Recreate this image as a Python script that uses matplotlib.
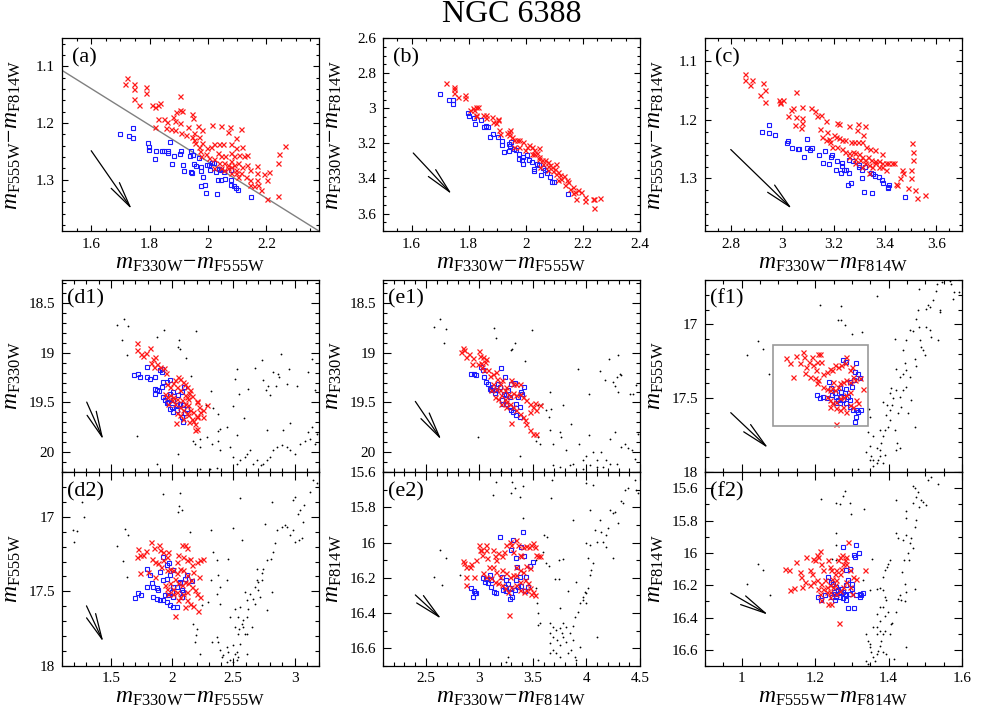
import numpy as np
import matplotlib
matplotlib.use('Agg')
import matplotlib.pyplot as plt
from matplotlib.ticker import MultipleLocator, FuncFormatter
from matplotlib.patches import Rectangle

plt.rcParams['font.family'] = 'Liberation Serif'
plt.rcParams['mathtext.fontset'] = 'custom'
plt.rcParams['mathtext.rm'] = 'Liberation Serif'
plt.rcParams['mathtext.it'] = 'Liberation Serif:italic'

# ── data: panel (a)  x = F330W-F555W, y = F555W-F814W ───────────────────────
a_red = [(1.721, 1.121), (1.717, 1.131), (1.745, 1.131), (1.745, 1.140), (1.745, 1.157), (1.762, 1.168),
         (1.786, 1.137), (1.787, 1.147), (1.807, 1.168), (1.819, 1.171), (1.828, 1.169), (1.837, 1.165),
         (1.820, 1.207), (1.828, 1.193), (1.850, 1.193), (1.858, 1.199), (1.857, 1.208), (1.873, 1.211),
         (1.880, 1.189), (1.888, 1.197), (1.891, 1.181), (1.904, 1.177), (1.911, 1.178), (1.904, 1.153),
         (1.887, 1.212), (1.907, 1.217), (1.930, 1.207), (1.904, 1.200), (1.946, 1.184), (1.947, 1.191),
         (1.964, 1.205), (1.981, 1.212), (2.012, 1.204), (2.044, 1.205), (2.076, 1.207), (2.112, 1.210),
         (2.068, 1.216), (2.095, 1.226), (1.944, 1.224), (1.953, 1.230), (1.970, 1.224), (1.955, 1.236),
         (1.968, 1.242), (1.973, 1.250), (1.981, 1.236), (1.998, 1.245), (2.010, 1.243), (2.021, 1.237),
         (2.038, 1.237), (2.050, 1.237), (2.078, 1.237), (2.095, 1.245), (2.118, 1.242), (2.033, 1.253),
         (2.044, 1.259), (2.058, 1.258), (2.078, 1.253), (2.090, 1.259), (2.107, 1.256), (2.124, 1.258),
         (2.135, 1.256), (1.976, 1.259), (1.993, 1.255), (2.004, 1.262), (2.021, 1.264), (2.038, 1.271),
         (2.055, 1.271), (2.067, 1.274), (2.080, 1.268), (2.090, 1.274), (2.103, 1.271), (2.118, 1.277),
         (2.135, 1.274), (2.144, 1.283), (2.167, 1.276), (2.021, 1.280), (2.044, 1.280), (2.055, 1.283),
         (2.078, 1.277), (2.095, 1.283), (2.112, 1.289), (2.129, 1.295), (2.144, 1.301), (2.167, 1.289),
         (2.169, 1.301), (2.192, 1.290), (2.209, 1.287), (2.203, 1.301), (2.172, 1.309), (2.181, 1.318),
         (2.158, 1.312), (2.144, 1.309), (2.203, 1.335), (2.238, 1.329), (2.238, 1.270), (2.243, 1.255),
         (2.263, 1.240), (2.095, 1.289), (2.078, 1.289), (2.067, 1.280), (2.101, 1.295), (1.924, 1.221),
         (1.951, 1.218)]
a_blue = [(1.699, 1.219), (1.731, 1.223), (1.742, 1.208), (1.742, 1.226), (1.793, 1.236), (1.797, 1.242),
          (1.799, 1.248), (1.822, 1.249), (1.820, 1.264), (1.841, 1.249), (1.850, 1.249), (1.862, 1.250),
          (1.862, 1.253), (1.871, 1.233), (1.882, 1.259), (1.876, 1.273), (1.913, 1.275), (1.917, 1.285),
          (1.907, 1.250), (1.905, 1.255), (1.942, 1.250), (1.947, 1.256), (1.938, 1.259), (1.942, 1.286),
          (1.945, 1.289), (1.953, 1.273), (1.960, 1.276), (1.970, 1.262), (1.976, 1.285), (1.984, 1.296),
          (1.976, 1.312), (1.989, 1.309), (1.994, 1.323), (2.029, 1.326), (2.004, 1.274), (2.012, 1.271),
          (2.021, 1.270), (2.027, 1.286), (2.008, 1.283), (2.038, 1.282), (2.044, 1.283), (2.035, 1.301),
          (2.046, 1.301), (2.058, 1.299), (2.078, 1.301), (2.080, 1.309), (2.090, 1.312), (2.095, 1.314),
          (2.101, 1.318), (2.053, 1.286), (2.078, 1.283), (2.147, 1.331), (1.976, 1.277), (1.998, 1.275)]
a_line_x = [1.50, 2.38]
a_line_y = [1.107, 1.391]

# ── panel (b)  x = F330W-F555W, y = F330W-F814W ─────────────────────────────
b_red = [(1.720, 2.857), (1.747, 2.880), (1.747, 2.889), (1.747, 2.914), (1.763, 2.936), (1.786, 2.927),
         (1.787, 2.942), (1.806, 3.007), (1.816, 2.997), (1.820, 3.008), (1.827, 2.990), (1.834, 2.993),
         (1.825, 3.037), (1.827, 3.046), (1.850, 3.037), (1.859, 3.041), (1.859, 3.054), (1.880, 3.050),
         (1.884, 3.079), (1.896, 3.084), (1.903, 3.060), (1.904, 3.065), (1.907, 3.122), (1.911, 3.145),
         (1.936, 3.141), (1.942, 3.135), (1.945, 3.126), (1.942, 3.154), (1.951, 3.164), (1.959, 3.183),
         (1.968, 3.179), (1.978, 3.183), (1.990, 3.192), (2.005, 3.221), (2.013, 3.211), (2.022, 3.221),
         (2.028, 3.240), (2.039, 3.255), (2.045, 3.225), (2.028, 3.259), (2.048, 3.278), (2.056, 3.293),
         (2.068, 3.293), (2.079, 3.306), (2.085, 3.325), (2.091, 3.335), (2.102, 3.344), (2.114, 3.363),
         (2.105, 3.372), (2.120, 3.382), (2.134, 3.388), (2.143, 3.410), (2.148, 3.420), (2.165, 3.448),
         (2.171, 3.477), (2.183, 3.467), (2.194, 3.477), (2.206, 3.505), (2.206, 3.528), (2.234, 3.515),
         (2.238, 3.566), (2.261, 3.511), (2.240, 3.520), (2.177, 3.520), (2.105, 3.316), (2.045, 3.287),
         (2.077, 3.331), (2.097, 3.357), (2.125, 3.401), (2.154, 3.458), (1.959, 3.221), (1.999, 3.240),
         (1.978, 3.221), (2.022, 3.259), (2.062, 3.316), (2.079, 3.354), (2.051, 3.335), (2.114, 3.410),
         (2.137, 3.439), (2.165, 3.482)]
b_blue = [(1.699, 2.921), (1.732, 2.955), (1.745, 2.952), (1.745, 2.974), (1.798, 3.027), (1.801, 3.046),
          (1.818, 3.054), (1.821, 3.088), (1.844, 3.069), (1.852, 3.107), (1.862, 3.103), (1.867, 3.107),
          (1.875, 3.164), (1.884, 3.145), (1.904, 3.164), (1.918, 3.189), (1.918, 3.208), (1.940, 3.202),
          (1.944, 3.215), (1.959, 3.230), (1.942, 3.244), (1.965, 3.236), (1.976, 3.263), (1.978, 3.287),
          (1.990, 3.278), (1.992, 3.319), (1.988, 3.297), (2.013, 3.293), (2.022, 3.306), (2.028, 3.344),
          (2.028, 3.357), (2.045, 3.325), (2.054, 3.382), (2.062, 3.338), (2.074, 3.369), (2.085, 3.391),
          (2.091, 3.420), (2.100, 3.420), (2.148, 3.490), (1.925, 3.249), (2.005, 3.268), (2.039, 3.316),
          (2.068, 3.354), (1.948, 3.192)]

# ── panel (c)  x = F330W-F814W, y = F555W-F814W ─────────────────────────────
c_red = [(2.857, 1.121), (2.854, 1.132), (2.881, 1.132), (2.873, 1.141), (2.925, 1.137), (2.935, 1.148),
         (2.932, 1.169), (2.912, 1.158), (2.988, 1.166), (2.993, 1.169), (3.002, 1.166), (2.993, 1.171),
         (3.021, 1.194), (3.034, 1.183), (3.044, 1.179), (3.053, 1.195), (3.053, 1.152), (3.049, 1.209),
         (3.079, 1.178), (3.079, 1.196), (3.079, 1.206), (3.073, 1.214), (3.111, 1.179), (3.128, 1.185),
         (3.137, 1.194), (3.150, 1.192), (3.169, 1.202), (3.146, 1.215), (3.175, 1.220), (3.214, 1.205),
         (3.221, 1.207), (3.259, 1.211), (3.295, 1.207), (3.321, 1.211), (3.291, 1.218), (3.314, 1.226),
         (3.156, 1.229), (3.169, 1.235), (3.182, 1.232), (3.188, 1.237), (3.201, 1.226), (3.208, 1.229),
         (3.221, 1.230), (3.233, 1.235), (3.246, 1.235), (3.266, 1.237), (3.278, 1.237), (3.295, 1.237),
         (3.311, 1.237), (3.326, 1.246), (3.343, 1.249), (3.362, 1.252), (3.388, 1.258), (3.195, 1.246),
         (3.215, 1.246), (3.233, 1.249), (3.246, 1.254), (3.259, 1.256), (3.274, 1.254), (3.285, 1.257),
         (3.298, 1.258), (3.311, 1.263), (3.323, 1.268), (3.334, 1.263), (3.346, 1.269), (3.362, 1.271),
         (3.375, 1.270), (3.388, 1.274), (3.403, 1.274), (3.413, 1.273), (3.426, 1.274), (3.437, 1.274),
         (3.285, 1.266), (3.304, 1.269), (3.323, 1.274), (3.336, 1.277), (3.349, 1.280), (3.362, 1.274),
         (3.375, 1.280), (3.388, 1.281), (3.403, 1.285), (3.465, 1.286), (3.471, 1.291), (3.458, 1.300),
         (3.446, 1.311), (3.442, 1.310), (3.491, 1.317), (3.501, 1.286), (3.507, 1.240), (3.510, 1.254),
         (3.510, 1.269), (3.516, 1.320), (3.523, 1.334), (3.557, 1.328), (3.501, 1.300), (3.336, 1.291),
         (3.311, 1.280), (3.285, 1.274), (3.259, 1.263)]
c_blue = [(2.920, 1.220), (2.948, 1.208), (2.950, 1.223), (2.971, 1.225), (3.019, 1.240), (3.021, 1.236),
          (3.040, 1.248), (3.060, 1.249), (3.064, 1.250), (3.085, 1.264), (3.098, 1.232), (3.098, 1.248),
          (3.109, 1.252), (3.118, 1.248), (3.143, 1.260), (3.159, 1.273), (3.166, 1.253), (3.184, 1.275),
          (3.193, 1.260), (3.192, 1.263), (3.208, 1.285), (3.214, 1.271), (3.231, 1.273), (3.233, 1.279),
          (3.229, 1.290), (3.240, 1.286), (3.249, 1.285), (3.257, 1.311), (3.266, 1.307), (3.275, 1.270),
          (3.259, 1.269), (3.298, 1.277), (3.298, 1.281), (3.311, 1.285), (3.317, 1.323), (3.311, 1.300),
          (3.323, 1.280), (3.346, 1.291), (3.352, 1.292), (3.362, 1.295), (3.375, 1.298), (3.388, 1.302),
          (3.394, 1.308), (3.411, 1.314), (3.413, 1.317), (3.417, 1.311), (3.478, 1.331), (3.349, 1.325),
          (3.259, 1.290)]

# ── panel (d1)  x = F330W-F555W, y = F330W ─────────────────────────────────
d1_black = [(1.547, 18.725), (1.609, 18.665), (1.637, 18.732), (1.590, 18.869), (1.628, 19.020), (1.873, 18.842),
            (1.936, 18.768), (2.059, 18.869), (2.051, 18.943), (2.064, 18.966), (2.113, 19.054), (2.195, 18.785),
            (2.154, 19.238), (2.315, 19.386), (2.337, 19.554), (2.277, 19.530), (2.377, 19.614), (2.391, 19.772),
            (2.375, 19.789), (2.500, 19.537), (2.514, 19.262), (2.533, 19.161), (2.549, 19.413), (2.590, 19.654),
            (2.620, 19.362), (2.674, 19.154), (2.731, 19.077), (2.740, 19.279), (2.767, 19.373), (2.786, 19.339),
            (2.800, 19.430), (2.827, 19.195), (2.868, 19.211), (2.876, 19.248), (2.849, 19.339), (2.890, 19.017),
            (2.936, 19.312), (2.958, 19.161), (2.963, 19.708), (3.017, 19.339), (3.113, 19.195), (3.146, 19.067),
            (3.167, 19.379), (1.710, 19.839), (2.048, 20.017), (1.873, 20.118), (2.173, 19.883), (2.187, 19.916),
            (2.228, 19.866), (2.282, 19.849), (2.323, 19.916), (2.377, 19.883), (2.391, 19.983), (2.446, 19.748),
            (2.473, 19.950), (2.500, 20.050), (2.533, 20.118), (2.554, 20.084), (2.595, 20.050), (2.609, 20.017),
            (2.636, 19.983), (2.663, 20.118), (2.691, 20.084), (2.723, 20.134), (2.745, 20.118), (2.772, 20.084),
            (2.800, 20.050), (2.827, 19.983), (2.854, 19.950), (2.895, 19.933), (2.936, 19.950), (2.963, 19.983),
            (3.004, 20.017), (3.045, 19.916), (3.086, 19.883), (3.126, 19.866), (3.167, 19.916), (3.181, 19.815),
            (3.140, 19.748), (3.113, 19.799), (2.772, 19.782), (2.909, 19.782), (2.527, 19.832), (2.228, 20.168),
            (2.309, 20.168), (2.364, 20.158), (2.228, 19.950)]
d1_red = [(1.710, 18.899), (1.716, 18.976), (1.743, 19.017), (1.765, 19.037), (1.786, 19.003), (1.819, 18.950),
          (1.841, 19.060), (1.860, 19.044), (1.879, 19.111), (1.901, 19.144), (1.936, 19.151), (1.950, 19.205),
          (1.824, 19.104), (1.852, 19.144), (1.955, 19.312), (1.982, 19.346), (2.004, 19.305), (2.023, 19.279),
          (2.051, 19.245), (2.064, 19.265), (2.086, 19.295), (2.105, 19.312), (2.119, 19.346), (2.140, 19.406),
          (2.146, 19.379), (2.037, 19.346), (2.064, 19.379), (2.119, 19.446), (2.160, 19.440), (2.200, 19.487),
          (2.206, 19.497), (2.222, 19.547), (2.249, 19.581), (2.282, 19.530), (2.255, 19.648), (2.105, 19.513),
          (2.132, 19.530), (2.146, 19.581), (2.173, 19.597), (2.200, 19.634), (2.132, 19.631), (2.160, 19.664),
          (2.187, 19.715), (2.187, 19.782), (2.200, 19.765), (2.032, 19.708), (2.010, 19.446), (1.982, 19.430),
          (1.955, 19.446), (1.942, 19.413), (2.023, 19.513), (2.064, 19.547), (2.091, 19.581), (2.119, 19.607),
          (2.064, 19.631), (2.037, 19.607), (2.086, 19.664), (2.140, 19.698), (2.173, 19.688), (2.200, 19.648),
          (2.228, 19.597), (1.969, 19.513), (1.996, 19.480), (2.037, 19.463), (2.078, 19.480), (2.105, 19.430),
          (2.127, 19.463)]
d1_blue = [(1.688, 19.222), (1.724, 19.211), (1.737, 19.245), (1.792, 19.144), (1.797, 19.245), (1.819, 19.262),
           (1.860, 19.245), (1.860, 19.362), (1.873, 19.379), (1.895, 19.386), (1.914, 19.346), (1.928, 19.295),
           (1.914, 19.161), (1.901, 19.178), (1.920, 19.195), (1.860, 19.413), (1.928, 19.446), (1.942, 19.480),
           (1.955, 19.507), (1.969, 19.497), (1.982, 19.413), (2.010, 19.396), (2.078, 19.396), (2.097, 19.346),
           (2.037, 19.530), (2.064, 19.513), (2.086, 19.530), (2.119, 19.564), (2.105, 19.607), (1.982, 19.564),
           (2.010, 19.597), (2.037, 19.581), (2.078, 19.648), (2.091, 19.698), (2.010, 19.480), (1.996, 19.547),
           (2.051, 19.430), (1.955, 19.295), (1.982, 19.279)]

# ── panel (d2)  x = F330W-F555W, y = F555W ─────────────────────────────────
d2_black = [(1.928, 16.850), (2.064, 16.843), (2.053, 16.926), (2.078, 16.955), (2.051, 16.966), (1.187, 17.089),
            (1.225, 17.094), (1.198, 17.168), (1.263, 16.899), (1.280, 17.004), (1.547, 17.197), (1.615, 17.083),
            (1.642, 17.123), (1.596, 17.298), (1.628, 17.403), (2.146, 17.101), (2.315, 17.089), (2.500, 17.074),
            (2.554, 16.872), (2.568, 17.157), (2.459, 17.286), (2.337, 17.235), (2.364, 17.291), (2.377, 17.391),
            (2.315, 17.425), (2.446, 17.421), (2.391, 17.470), (2.364, 17.515), (2.391, 17.582), (2.241, 17.588),
            (2.296, 17.570), (2.173, 17.716), (2.200, 17.749), (2.195, 17.794), (2.187, 17.839), (2.228, 17.917),
            (2.323, 17.839), (2.364, 17.805), (2.377, 17.839), (2.391, 17.895), (2.405, 17.940), (2.418, 17.928),
            (2.446, 17.872), (2.459, 17.906), (2.500, 17.861), (2.514, 17.917), (2.527, 17.906), (2.541, 17.940),
            (2.554, 17.850), (2.609, 17.917), (2.500, 17.973), (2.473, 17.962), (2.446, 17.973), (2.527, 17.962),
            (2.609, 17.671), (2.623, 17.615), (2.582, 17.738), (2.595, 17.783), (2.582, 17.693), (2.541, 17.671),
            (2.549, 17.749), (2.568, 17.716), (2.609, 17.559), (2.636, 17.515), (2.663, 17.548), (2.677, 17.470),
            (2.691, 17.425), (2.704, 17.492), (2.731, 17.380), (2.745, 17.347), (2.772, 17.291), (2.805, 17.280),
            (2.827, 17.235), (2.840, 17.179), (2.854, 17.089), (2.895, 17.067), (2.922, 17.056), (2.941, 17.067),
            (2.963, 17.123), (2.990, 17.089), (3.004, 17.168), (3.036, 17.157), (3.058, 17.145), (3.031, 16.978),
            (3.045, 16.955), (3.072, 17.034), (3.077, 16.922), (3.126, 16.832), (3.154, 16.754), (3.181, 16.776),
            (2.990, 16.888), (3.004, 16.866), (2.813, 16.899), (2.759, 17.045), (2.691, 17.347), (2.731, 17.425),
            (2.677, 17.582), (2.718, 17.537), (2.772, 17.626), (2.813, 17.503), (2.704, 17.436), (2.595, 17.503),
            (2.514, 17.615), (2.554, 17.604), (2.473, 17.671), (2.514, 17.738), (2.541, 17.783), (2.609, 17.783),
            (2.650, 17.738)]
d2_red = [(1.724, 17.219), (1.737, 17.259), (1.710, 17.268), (1.765, 17.257), (1.784, 17.228), (1.824, 17.168),
          (1.852, 17.206), (1.895, 17.190), (1.901, 17.224), (1.928, 17.235), (1.955, 17.268), (1.969, 17.235),
          (1.833, 17.286), (1.860, 17.302), (1.887, 17.313), (1.909, 17.336), (1.928, 17.291), (1.805, 17.369),
          (1.860, 17.403), (1.737, 17.380), (1.955, 17.358), (1.982, 17.347), (2.010, 17.358), (2.037, 17.302),
          (2.051, 17.257), (2.078, 17.190), (2.105, 17.186), (2.119, 17.212), (2.086, 17.268), (2.119, 17.291),
          (2.146, 17.280), (2.160, 17.324), (2.173, 17.369), (2.119, 17.391), (2.091, 17.358), (2.037, 17.380),
          (2.064, 17.347), (2.023, 17.414), (2.051, 17.447), (2.078, 17.459), (2.105, 17.436), (2.132, 17.447),
          (2.160, 17.470), (2.187, 17.492), (2.200, 17.515), (2.228, 17.537), (2.119, 17.559), (2.146, 17.582),
          (2.173, 17.600), (2.214, 17.633), (2.010, 17.481), (2.037, 17.503), (1.982, 17.447), (1.955, 17.481),
          (1.942, 17.459), (2.064, 17.537), (2.105, 17.604), (2.023, 17.667), (2.228, 17.291), (2.255, 17.286),
          (2.200, 17.302), (2.222, 17.403), (2.151, 17.425), (2.119, 17.503), (2.086, 17.515), (2.051, 17.559),
          (2.010, 17.515), (1.969, 17.515)]
d2_blue = [(1.697, 17.544), (1.724, 17.508), (1.743, 17.526), (1.792, 17.347), (1.819, 17.387), (1.833, 17.443),
           (1.846, 17.470), (1.873, 17.474), (1.887, 17.492), (1.792, 17.470), (1.846, 17.537), (1.873, 17.548),
           (1.901, 17.559), (1.928, 17.559), (1.955, 17.570), (1.982, 17.593), (2.010, 17.604), (2.037, 17.604),
           (1.942, 17.526), (1.969, 17.526), (1.996, 17.503), (2.010, 17.470), (2.037, 17.470), (2.064, 17.447),
           (2.078, 17.492), (2.091, 17.503), (2.105, 17.414), (2.119, 17.391), (1.982, 17.391), (2.010, 17.358),
           (1.928, 17.268), (1.955, 17.324), (1.901, 17.369), (1.955, 17.414), (1.928, 17.425), (1.977, 17.313),
           (2.064, 17.436), (2.160, 17.432), (2.078, 17.537), (2.010, 17.537)]

# ── panel (e1)  x = F330W-F814W, y = F330W ─────────────────────────────────
e1_black = [(2.573, 18.742), (2.636, 18.658), (2.692, 18.758), (2.670, 18.903), (3.134, 18.752), (3.153, 18.849),
            (3.330, 18.903), (3.309, 18.960), (3.299, 18.977), (3.424, 19.087), (3.492, 18.768), (2.988, 19.849),
            (3.206, 20.185), (3.377, 20.034), (3.548, 19.530), (3.589, 19.520), (3.626, 19.581), (3.658, 19.396),
            (3.673, 19.564), (3.651, 19.648), (3.658, 19.782), (3.689, 19.916), (3.548, 19.849), (3.564, 19.916),
            (3.533, 19.893), (3.751, 19.799), (3.760, 19.849), (3.782, 19.530), (3.813, 19.983), (3.860, 19.715),
            (3.876, 20.118), (3.922, 19.161), (3.932, 19.916), (3.969, 20.084), (4.000, 20.034), (4.022, 19.413),
            (4.025, 19.832), (4.063, 19.999), (4.094, 20.151), (4.125, 19.188), (4.140, 19.999), (4.172, 19.272),
            (4.187, 20.084), (4.206, 19.060), (4.218, 19.866), (4.249, 19.295), (4.265, 19.339), (4.281, 19.245),
            (4.290, 19.396), (4.296, 19.020), (4.312, 19.211), (4.327, 19.228), (4.262, 19.799), (4.327, 19.950),
            (4.358, 19.916), (4.390, 19.956), (4.405, 19.413), (4.436, 19.413), (4.467, 19.329), (4.483, 19.815),
            (4.421, 19.983), (4.452, 20.067), (4.281, 20.118), (4.218, 20.118), (3.689, 20.134), (3.751, 20.151),
            (3.845, 20.134), (3.969, 20.168), (4.094, 20.084), (4.156, 20.151), (4.031, 20.134), (3.377, 20.185)]
e1_red = [(2.848, 18.953), (2.857, 18.976), (2.832, 18.993), (2.879, 19.044), (2.904, 19.010), (2.941, 19.054),
          (2.935, 19.111), (2.997, 18.983), (3.003, 19.037), (3.035, 19.044), (3.059, 19.060), (3.056, 19.094),
          (3.013, 19.104), (2.988, 19.111), (3.028, 19.144), (3.041, 19.178), (3.081, 19.178), (3.097, 19.238),
          (3.128, 19.211), (3.153, 19.195), (3.165, 19.262), (3.190, 19.312), (3.215, 19.279), (3.246, 19.346),
          (3.299, 19.279), (3.315, 19.312), (3.346, 19.312), (3.377, 19.312), (3.237, 19.379), (3.268, 19.413),
          (3.290, 19.440), (3.315, 19.406), (3.346, 19.430), (3.377, 19.413), (3.408, 19.446), (3.440, 19.480),
          (3.471, 19.513), (3.502, 19.547), (3.533, 19.581), (3.564, 19.530), (3.517, 19.507), (3.471, 19.597),
          (3.128, 19.312), (3.159, 19.362), (3.190, 19.379), (3.206, 19.430), (3.237, 19.463), (3.253, 19.497),
          (3.284, 19.513), (3.315, 19.547), (3.346, 19.581), (3.377, 19.614), (3.408, 19.648), (3.424, 19.681),
          (3.440, 19.715), (3.471, 19.782), (3.502, 19.822), (3.533, 19.815), (3.293, 19.708), (3.112, 19.379),
          (3.144, 19.446), (3.175, 19.463), (3.206, 19.513), (3.253, 19.547)]
e1_blue = [(2.926, 19.211), (2.947, 19.218), (2.972, 19.228), (3.019, 19.144), (3.035, 19.171), (3.041, 19.245),
           (3.066, 19.295), (3.081, 19.312), (3.097, 19.362), (3.112, 19.373), (3.128, 19.346), (3.144, 19.406),
           (3.159, 19.379), (3.206, 19.151), (3.237, 19.245), (3.190, 19.346), (3.228, 19.413), (3.253, 19.430),
           (3.215, 19.480), (3.221, 19.513), (3.253, 19.513), (3.284, 19.547), (3.299, 19.581), (3.315, 19.597),
           (3.346, 19.631), (3.377, 19.648), (3.299, 19.312), (3.330, 19.305), (3.393, 19.396), (3.402, 19.413),
           (3.415, 19.346), (3.362, 19.446), (3.346, 19.513), (3.377, 19.547), (3.284, 19.446), (3.268, 19.379),
           (3.175, 19.312)]

# ── panel (e2)  x = F330W-F814W, y = F814W ─────────────────────────────────
e2_black = [(3.153, 15.654), (3.309, 15.654), (3.330, 15.692), (3.408, 15.682), (3.128, 15.729), (3.293, 15.720),
            (3.377, 15.739), (3.667, 15.745), (3.679, 15.644), (3.408, 15.862), (3.268, 16.651), (3.253, 16.675),
            (3.548, 16.666), (2.636, 16.042), (2.686, 16.085), (2.573, 16.193), (2.655, 16.240), (2.816, 16.184),
            (3.601, 15.957), (3.633, 15.970), (3.595, 16.051), (3.527, 16.098), (3.626, 16.114), (3.651, 16.132),
            (3.704, 16.208), (3.745, 16.208), (3.739, 16.098), (3.782, 16.095), (3.533, 16.259), (3.539, 16.344),
            (3.548, 16.401), (3.564, 16.458), (3.548, 16.467), (3.658, 16.458), (3.689, 16.477), (3.720, 16.496),
            (3.751, 16.486), (3.782, 16.458), (3.813, 16.477), (3.658, 16.515), (3.689, 16.534), (3.726, 16.553),
            (3.751, 16.581), (3.782, 16.534), (3.813, 16.562), (3.844, 16.515), (3.876, 16.553), (3.829, 16.628),
            (3.860, 16.609), (3.891, 16.647), (3.907, 16.666), (3.938, 16.590), (3.658, 16.571), (3.689, 16.609),
            (3.720, 16.628), (3.751, 16.647), (3.658, 16.628), (3.876, 16.473), (3.891, 16.420), (3.922, 16.392),
            (3.938, 16.344), (3.969, 16.307), (4.000, 16.288), (3.985, 16.278), (4.010, 16.259), (4.031, 16.184),
            (4.047, 16.155), (4.063, 16.117), (4.016, 16.089), (4.000, 16.004), (4.031, 16.013), (4.078, 15.928),
            (4.094, 15.994), (4.125, 15.871), (4.140, 15.938), (4.156, 15.994), (4.178, 15.957), (4.187, 16.023),
            (4.203, 15.919), (4.218, 15.815), (4.249, 15.834), (4.265, 15.824), (4.290, 15.890), (4.249, 16.089),
            (4.327, 15.767), (4.343, 15.777), (4.358, 15.701), (4.390, 15.692), (4.452, 15.644), (4.467, 15.701),
            (4.483, 15.720), (4.031, 15.815), (4.063, 15.673), (4.000, 15.663), (3.876, 15.871), (4.094, 16.534),
            (3.751, 16.373), (3.829, 16.274), (3.907, 16.221), (3.969, 16.325), (4.000, 16.341), (3.767, 16.515)]
e2_red = [(2.848, 16.104), (2.854, 16.117), (2.879, 16.140), (2.879, 16.193), (2.879, 16.240), (2.910, 16.136),
          (2.926, 16.121), (2.950, 16.193), (2.997, 16.013), (3.003, 16.042), (3.019, 16.045), (3.028, 16.070),
          (3.059, 16.013), (3.066, 16.045), (3.075, 16.089), (3.091, 16.136), (3.128, 16.045), (3.144, 16.079),
          (3.159, 16.098), (3.175, 16.061), (3.215, 16.079), (3.228, 16.051), (3.253, 16.013), (3.290, 15.994),
          (3.299, 16.013), (3.315, 16.051), (3.346, 15.985), (3.362, 16.013), (3.377, 16.070), (3.393, 16.079),
          (3.408, 16.023), (3.440, 16.019), (3.464, 16.027), (3.486, 16.013), (3.502, 16.004), (3.517, 16.027),
          (3.533, 16.070), (3.548, 16.079), (3.570, 16.079), (3.128, 16.136), (3.159, 16.165), (3.190, 16.193),
          (3.215, 16.155), (3.253, 16.174), (3.284, 16.193), (3.315, 16.184), (3.346, 16.136), (3.377, 16.155),
          (3.408, 16.165), (3.440, 16.132), (3.471, 16.146), (3.035, 16.174), (3.066, 16.193), (3.112, 16.202),
          (3.144, 16.221), (3.175, 16.231), (3.215, 16.240), (3.237, 16.259), (3.268, 16.278), (3.299, 16.250),
          (3.346, 16.240), (3.377, 16.269), (3.415, 16.278), (3.440, 16.269), (3.471, 16.259), (3.502, 16.278),
          (3.517, 16.297), (3.486, 16.293), (3.277, 16.411), (3.346, 16.184), (3.377, 16.221), (3.424, 16.212),
          (3.455, 16.231), (2.972, 16.098)]
e2_blue = [(2.926, 16.259), (2.947, 16.274), (2.957, 16.288), (2.972, 16.284), (2.941, 16.306), (3.035, 16.202),
           (3.050, 16.221), (3.066, 16.208), (3.081, 16.231), (3.097, 16.184), (3.112, 16.254), (3.134, 16.278),
           (3.159, 16.288), (3.197, 15.970), (3.221, 16.269), (3.237, 16.250), (3.253, 16.272), (3.268, 16.235),
           (3.284, 16.259), (3.299, 16.288), (3.309, 16.306), (3.315, 15.985), (3.299, 16.045), (3.346, 16.089),
           (3.352, 16.136), (3.377, 16.193), (3.393, 16.023), (3.408, 15.938), (3.415, 16.079), (3.440, 16.193),
           (3.455, 16.250), (3.471, 16.132), (3.502, 16.108), (3.112, 16.212), (3.215, 16.193), (3.253, 16.212),
           (3.290, 16.322), (3.330, 16.269), (3.362, 16.250), (3.393, 16.246), (3.424, 16.272), (3.346, 16.212)]

# ── panel (f1)  x = F555W-F814W, y = F555W ─────────────────────────────────
f1_black = [(1.013, 17.209), (1.045, 17.115), (1.059, 17.164), (1.075, 17.337), (1.214, 16.872), (1.271, 16.879),
            (1.262, 16.969), (1.271, 16.973), (1.280, 17.007), (1.299, 17.063), (1.328, 17.052), (1.367, 16.807),
            (1.347, 17.575), (1.350, 17.625), (1.344, 17.726), (1.317, 17.977), (1.339, 17.861), (1.348, 17.827),
            (1.353, 17.894), (1.357, 17.917), (1.367, 17.939), (1.371, 17.917), (1.376, 17.894), (1.385, 17.939),
            (1.389, 17.883), (1.376, 17.849), (1.367, 17.838), (1.380, 17.804), (1.385, 17.759), (1.389, 17.715),
            (1.398, 17.692), (1.403, 17.647), (1.394, 17.613), (1.403, 17.580), (1.376, 17.715), (1.357, 17.759),
            (1.348, 17.917), (1.357, 17.962), (1.416, 17.097), (1.421, 17.299), (1.432, 17.355), (1.439, 17.175),
            (1.444, 17.265), (1.448, 17.108), (1.457, 17.040), (1.466, 17.047), (1.475, 16.962), (1.480, 16.906),
            (1.483, 17.018), (1.486, 17.108), (1.489, 17.153), (1.493, 17.175), (1.498, 17.209), (1.503, 17.018),
            (1.512, 17.040), (1.516, 17.085), (1.507, 16.872), (1.512, 16.883), (1.521, 16.838), (1.530, 16.771),
            (1.531, 16.726), (1.539, 16.917), (1.541, 16.906), (1.535, 17.108), (1.546, 16.715), (1.566, 16.703),
            (1.570, 16.726), (1.575, 16.827), (1.579, 16.782), (1.593, 16.782), (1.484, 16.760), (1.503, 16.894),
            (1.403, 17.467), (1.407, 17.434), (1.412, 17.501), (1.421, 17.445), (1.430, 17.490), (1.435, 17.557),
            (1.439, 17.445), (1.448, 17.423), (1.416, 17.715), (1.423, 17.805), (1.430, 17.838), (1.421, 17.850),
            (1.453, 17.602), (1.462, 17.513), (1.473, 17.692), (1.439, 17.333), (1.448, 17.310), (1.471, 17.232),
            (1.475, 17.283), (1.457, 17.355), (1.410, 17.546), (1.425, 17.602), (1.385, 17.524), (1.396, 17.546)]
f1_red = [(1.120, 17.227), (1.131, 17.261), (1.140, 17.355), (1.149, 17.213), (1.158, 17.265), (1.167, 17.187),
          (1.169, 17.220), (1.176, 17.288), (1.184, 17.254), (1.190, 17.220), (1.194, 17.272), (1.202, 17.310),
          (1.205, 17.254), (1.208, 17.198), (1.214, 17.202), (1.217, 17.254), (1.172, 17.328), (1.185, 17.355),
          (1.199, 17.366), (1.208, 17.377), (1.222, 17.333), (1.231, 17.321), (1.240, 17.299), (1.247, 17.310),
          (1.253, 17.276), (1.262, 17.288), (1.271, 17.276), (1.280, 17.265), (1.285, 17.220), (1.294, 17.310),
          (1.299, 17.288), (1.222, 17.422), (1.231, 17.440), (1.240, 17.445), (1.247, 17.434), (1.253, 17.445),
          (1.262, 17.422), (1.267, 17.400), (1.276, 17.389), (1.285, 17.378), (1.294, 17.389), (1.303, 17.355),
          (1.308, 17.378), (1.321, 17.366), (1.330, 17.440), (1.231, 17.490), (1.240, 17.512), (1.247, 17.535),
          (1.258, 17.524), (1.267, 17.501), (1.276, 17.490), (1.285, 17.479), (1.294, 17.456), (1.258, 17.568),
          (1.267, 17.580), (1.276, 17.557), (1.240, 17.557), (1.285, 17.591), (1.294, 17.546), (1.303, 17.557),
          (1.256, 17.676), (1.312, 17.512), (1.317, 17.535), (1.249, 17.389), (1.204, 17.400)]
f1_blue = [(1.204, 17.479), (1.213, 17.501), (1.222, 17.490), (1.231, 17.501), (1.238, 17.389), (1.247, 17.479),
           (1.253, 17.467), (1.258, 17.490), (1.262, 17.512), (1.267, 17.434), (1.271, 17.456), (1.276, 17.243),
           (1.285, 17.254), (1.294, 17.389), (1.299, 17.422), (1.305, 17.378), (1.308, 17.321), (1.312, 17.261),
           (1.317, 17.333), (1.323, 17.360), (1.258, 17.535), (1.267, 17.535), (1.276, 17.512), (1.285, 17.535),
           (1.294, 17.557), (1.303, 17.580), (1.312, 17.580), (1.317, 17.591), (1.326, 17.580), (1.290, 17.490),
           (1.281, 17.467), (1.271, 17.490), (1.312, 17.629), (1.308, 17.658), (1.294, 17.512), (1.244, 17.434),
           (1.285, 17.440)]
f1_box_x = [1.085, 1.345]
f1_box_y = [17.142, 17.690]

# ── panel (f2)  x = F555W-F814W, y = F814W ─────────────────────────────────
f2_black = [(1.217, 15.666), (1.256, 15.693), (1.267, 15.697), (1.276, 15.648), (1.280, 15.617), (1.296, 15.693),
            (1.297, 15.762), (1.333, 15.731), (1.258, 15.876), (1.258, 15.952), (1.247, 16.039), (1.256, 16.046),
            (1.045, 16.070), (1.059, 16.108), (1.013, 16.195), (1.077, 16.263), (1.356, 16.039), (1.330, 16.170),
            (1.350, 16.232), (1.367, 16.222), (1.376, 16.215), (1.385, 16.149), (1.389, 16.108), (1.396, 16.087),
            (1.398, 16.070), (1.403, 16.046), (1.385, 16.232), (1.389, 16.274), (1.394, 16.294), (1.385, 16.336),
            (1.376, 16.336), (1.367, 16.377), (1.376, 16.419), (1.389, 16.388), (1.398, 16.367), (1.407, 16.439),
            (1.339, 16.501), (1.344, 16.543), (1.348, 16.584), (1.353, 16.615), (1.357, 16.647), (1.362, 16.667),
            (1.367, 16.626), (1.371, 16.605), (1.376, 16.574), (1.380, 16.543), (1.385, 16.501), (1.389, 16.481),
            (1.376, 16.481), (1.367, 16.460), (1.357, 16.460), (1.348, 16.564), (1.339, 16.667), (1.344, 16.688),
            (1.385, 16.615), (1.394, 16.626), (1.414, 16.657), (1.410, 16.433), (1.421, 16.367), (1.425, 16.284),
            (1.430, 16.263), (1.435, 16.290), (1.444, 16.298), (1.448, 16.242), (1.444, 16.191), (1.437, 16.118),
            (1.441, 16.046), (1.453, 16.004), (1.455, 16.046), (1.466, 15.973), (1.471, 15.838), (1.462, 15.911),
            (1.457, 15.942), (1.448, 15.890), (1.439, 15.921), (1.425, 15.911), (1.421, 15.880), (1.419, 15.673),
            (1.446, 15.739), (1.446, 15.786), (1.466, 15.693), (1.475, 15.652), (1.480, 15.621), (1.484, 15.714),
            (1.489, 15.672), (1.493, 15.683), (1.503, 15.704), (1.466, 15.585), (1.471, 15.600), (1.507, 15.552),
            (1.516, 15.532), (1.535, 15.573), (1.475, 15.797), (1.473, 16.222), (1.448, 16.584), (1.403, 16.501),
            (1.367, 16.501)]
f2_red = [(1.117, 16.102), (1.129, 16.108), (1.131, 16.232), (1.142, 16.215), (1.149, 16.056), (1.158, 16.118),
          (1.160, 16.149), (1.164, 16.211), (1.172, 16.180), (1.176, 16.025), (1.185, 16.108), (1.190, 16.128),
          (1.194, 16.035), (1.199, 16.046), (1.204, 16.014), (1.208, 16.025), (1.214, 15.988), (1.217, 16.066),
          (1.222, 16.108), (1.185, 16.201), (1.194, 16.180), (1.204, 16.170), (1.208, 16.222), (1.217, 16.191),
          (1.226, 16.170), (1.235, 16.046), (1.240, 16.087), (1.244, 16.108), (1.247, 16.160), (1.258, 16.170),
          (1.253, 16.201), (1.249, 16.211), (1.240, 16.201), (1.231, 16.211), (1.222, 16.222), (1.231, 16.242),
          (1.240, 16.273), (1.244, 16.315), (1.258, 16.253), (1.267, 16.236), (1.276, 16.211), (1.285, 16.180),
          (1.267, 16.128), (1.271, 16.097), (1.276, 16.066), (1.280, 16.046), (1.285, 16.025), (1.290, 15.932),
          (1.294, 16.108), (1.303, 16.149), (1.312, 16.160), (1.335, 16.108), (1.267, 16.025), (1.274, 16.014),
          (1.262, 16.046), (1.253, 16.128), (1.294, 16.211), (1.299, 16.253), (1.235, 16.315), (1.265, 16.435),
          (1.285, 16.066), (1.258, 16.108), (1.240, 16.242), (1.213, 16.253), (1.217, 16.294)]
f2_blue = [(1.208, 16.274), (1.217, 16.294), (1.226, 16.263), (1.235, 16.149), (1.244, 16.180), (1.249, 16.191),
           (1.251, 16.242), (1.253, 16.253), (1.258, 16.211), (1.262, 16.232), (1.267, 16.242), (1.271, 16.222),
           (1.276, 16.242), (1.280, 16.253), (1.285, 16.263), (1.290, 16.170), (1.294, 16.097), (1.299, 16.222),
           (1.276, 15.963), (1.285, 16.108), (1.305, 16.014), (1.308, 16.025), (1.312, 15.952), (1.319, 16.004),
           (1.321, 16.253), (1.326, 16.263), (1.330, 16.247), (1.258, 16.273), (1.267, 16.273), (1.276, 16.278),
           (1.285, 16.294), (1.290, 16.340), (1.305, 16.340), (1.312, 16.263), (1.321, 16.273), (1.294, 16.253),
           (1.247, 16.273), (1.253, 16.294), (1.283, 16.201), (1.299, 16.195)]

# reddening vectors: (x0, y0, x1, y1)
vectors = {
    'a': (1.600, 1.249, 1.739, 1.3525),
    'b': (1.606, 3.255, 1.741, 3.490),
    'c': (2.800, 1.2505, 3.038, 1.352),
    'd1': (1.302, 19.497, 1.438, 19.876),
    'd2': (1.300, 17.597, 1.438, 17.839),
    'e1': (2.402, 19.490, 2.645, 19.876),
    'e2': (2.402, 16.297, 2.645, 16.433),
    'f1': (0.970, 17.598, 1.072, 17.838),
    'f2': (0.970, 16.249, 1.072, 16.383),
}

# ── labels ───────────────────────────────────────────────────────────────────
def mag(f):
    return r'$m_{\rm F%sW}$' % f

def col(f1, f2):
    return r'$m_{\rm F%sW}\!-\!m_{\rm F%sW}$' % (f1, f2)

fig = plt.figure(figsize=(9.81, 7.11), dpi=100)
fig.patch.set_facecolor('white')

W = 0.262
lefts = [0.0632, 0.3904, 0.7187]
fmt = FuncFormatter(lambda v, p: '%g' % round(v, 3))


def setup(ax, xlim, ylim, xmaj, xmin, ymaj, ymin, big):
    ax.set_xlim(*xlim)
    ax.set_ylim(*ylim)
    ax.xaxis.set_major_locator(MultipleLocator(xmaj))
    ax.xaxis.set_minor_locator(MultipleLocator(xmin))
    ax.yaxis.set_major_locator(MultipleLocator(ymaj))
    ax.yaxis.set_minor_locator(MultipleLocator(ymin))
    ax.xaxis.set_major_formatter(fmt)
    ax.yaxis.set_major_formatter(fmt)
    ax.tick_params(which='both', direction='in', top=True, right=True,
                   width=0.8, labelsize=11, pad=5)
    ax.tick_params(which='major', length=6 if big else 4.5)
    ax.tick_params(which='minor', length=3 if big else 2.5)
    for s in ax.spines.values():
        s.set_linewidth(0.9)


def stars(ax, red, blue, black=None):
    if black is not None:
        bk = np.array(black)
        ax.plot(bk[:, 0], bk[:, 1], 'o', ms=1.3, color='black', mew=0, zorder=2)
    b = np.array(blue)
    ax.plot(b[:, 0], b[:, 1], 's', ms=3.2, mfc='none', mec='#1a1aff', mew=0.8, zorder=3)
    r = np.array(red)
    ax.plot(r[:, 0], r[:, 1], 'x', ms=3.6, color='#ff1a1a', mew=0.9, zorder=4)


def vector(ax, key):
    x0, y0, x1, y1 = vectors[key]
    ax.annotate('', xy=(x1, y1), xytext=(x0, y0),
                arrowprops=dict(arrowstyle='->,head_length=1.85,head_width=0.36',
                                color='black', lw=0.9, shrinkA=0, shrinkB=0,
                                mutation_scale=10), zorder=5)


def tag(ax, s, x=0.03):
    ax.text(x, 0.90, s, transform=ax.transAxes, fontsize=16, ha='left', va='center')


def ylab(ax, s):
    ax.set_ylabel(s, fontsize=17)
    ax.yaxis.set_label_coords(-0.152, 0.5)


def xlab(ax, s, y=-0.115):
    ax.set_xlabel(s, fontsize=17)
    ax.xaxis.set_label_coords(0.5, y)


# ── row 1 ────────────────────────────────────────────────────────────────────
ax = fig.add_axes([lefts[0], 0.675, W, 0.2714])
setup(ax, (1.5, 2.38), (1.391, 1.05), 0.2, 0.05, 0.1, 0.02, False)
ax.plot(a_line_x, a_line_y, color='#808080', lw=1.0, zorder=1)
stars(ax, a_red, a_blue)
vector(ax, 'a')
tag(ax, '(a)', 0.04)
xlab(ax, col('330', '555'))
ylab(ax, col('555', '814'))

ax = fig.add_axes([lefts[1], 0.675, W, 0.2714])
setup(ax, (1.5, 2.4), (3.7, 2.6), 0.2, 0.05, 0.2, 0.05, False)
stars(ax, b_red, b_blue)
vector(ax, 'b')
tag(ax, '(b)', 0.04)
xlab(ax, col('330', '555'))
ylab(ax, col('330', '814'))

ax = fig.add_axes([lefts[2], 0.675, W, 0.2714])
setup(ax, (2.7, 3.7), (1.39, 1.06), 0.2, 0.05, 0.1, 0.02, False)
stars(ax, c_red, c_blue)
vector(ax, 'c')
tag(ax, '(c)', 0.04)
xlab(ax, col('330', '814'))
ylab(ax, col('555', '814'))

# ── rows 2/3 ─────────────────────────────────────────────────────────────────
lower = [
    ('d', (1.1, 3.2), (20.2, 18.27), (18.0, 16.7), 0.5, 0.1, 0.5, 0.5,
     (d1_red, d1_blue, d1_black), (d2_red, d2_blue, d2_black),
     col('330', '555'), mag('330'), mag('555')),
    ('e', (2.1, 4.5), (20.2, 18.27), (16.7, 15.6), 0.5, 0.1, 0.5, 0.2,
     (e1_red, e1_blue, e1_black), (e2_red, e2_blue, e2_black),
     col('330', '814'), mag('330'), mag('814')),
    ('f', (0.9, 1.6), (18.0, 16.7), (16.7, 15.5), 0.2, 0.05, 0.5, 0.2,
     (f1_red, f1_blue, f1_black), (f2_red, f2_blue, f2_black),
     col('555', '814'), mag('555'), mag('814')),
]

for i, (k, xl, yl1, yl2, xmaj, xmin, ym1, ym2, dat1, dat2, xs, ys1, ys2) in enumerate(lower):
    ax1 = fig.add_axes([lefts[i], 0.3361, W, 0.2700])
    setup(ax1, xl, yl1, xmaj, xmin, ym1, 0.1, True)
    ax1.tick_params(labelbottom=False)
    stars(ax1, dat1[0], dat1[1], dat1[2])
    vector(ax1, k + '1')
    tag(ax1, '(%s1)' % k, 0.02)
    ylab(ax1, ys1)
    if k == 'f':
        ax1.add_patch(Rectangle((f1_box_x[0], f1_box_y[0]), f1_box_x[1] - f1_box_x[0],
                                f1_box_y[1] - f1_box_y[0], fill=False,
                                ec='#999999', lw=1.2, zorder=6))

    ax2 = fig.add_axes([lefts[i], 0.0633, W, 0.2728])
    setup(ax2, xl, yl2, xmaj, xmin, ym2, 0.1, True)
    ax2.tick_params(axis='x', pad=4)
    stars(ax2, dat2[0], dat2[1], dat2[2])
    vector(ax2, k + '2')
    tag(ax2, '(%s2)' % k, 0.02)
    xlab(ax2, xs, -0.108)
    ylab(ax2, ys2)

fig.text(0.5216, 0.979, 'NGC 6388', ha='center', va='center', fontsize=23)

fig.savefig('out.png', dpi=100)
